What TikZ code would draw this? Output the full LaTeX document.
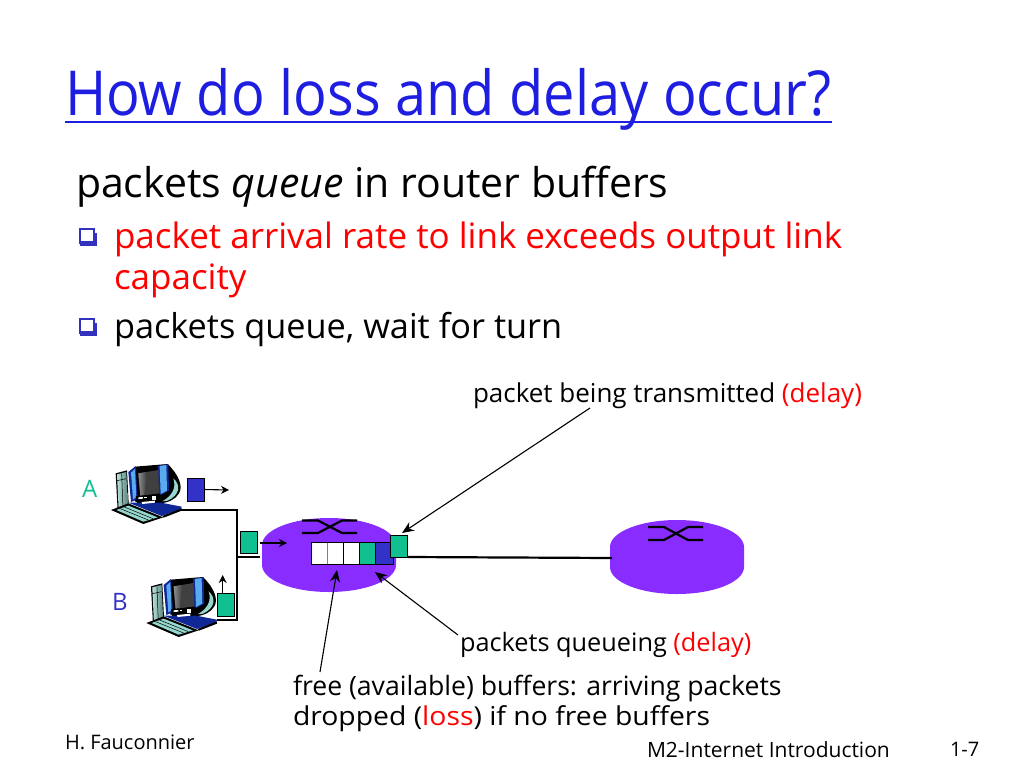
\documentclass[tikz,border=0pt]{standalone}
\usepackage{fontspec}
\setmainfont{Open Sans}
\newfontfamily\headfont[FakeStretch=0.902]{Open Sans}
\newfontfamily\widefont[FakeStretch=1.09]{Open Sans}
\usetikzlibrary{arrows.meta}
\definecolor{titleblue}{RGB}{30,30,225}
\definecolor{routerviolet}{RGB}{136,44,255}
\definecolor{pkteal}{RGB}{16,192,144}
\definecolor{pkblue}{RGB}{50,50,200}
\definecolor{labred}{RGB}{255,0,0}
\definecolor{bulblue}{RGB}{50,50,190}
\definecolor{kbteal}{RGB}{150,215,205}
\definecolor{ringblue}{RGB}{90,170,240}
\definecolor{basenavy}{RGB}{15,40,150}
\tikzset{
  x=1pt,y=-1pt,
  txt/.style={anchor=base west,inner sep=0pt,outer sep=0pt},
  headtxt/.style={txt,font=\headfont\fontsize{62}{62}\selectfont,text=titleblue},
  bigtxt/.style={txt,font=\fontsize{41}{41}\selectfont},
  midtxt/.style={txt,font=\fontsize{35}{35}\selectfont},
  smalltxt/.style={txt,font=\fontsize{26}{26}\selectfont},
  foottxt/.style={txt,font=\fontsize{20}{20}\selectfont},
  pkt/.style={draw=black,line width=0.7pt,minimum width=17pt,minimum height=22pt,inner sep=0pt,outer sep=0pt},
  wire/.style={draw=black,line width=2.2pt},
  flow/.style={draw=black,line width=1.1pt,-{Stealth[length=8pt,width=8pt]}},
  callout/.style={draw=black,line width=1.1pt,-{Stealth[length=12pt,width=10pt]}},
  sw/.style={draw=black,line width=2.2pt},
  cell/.style={fill=white,draw=black,line width=0.7pt}
}
\tikzset{
  computer/.pic={
    \begin{scope}[x=0.3333pt,y=-0.3333pt]
      % tower
      \fill[black] (32,40) -- (66,31) -- (72,150) -- (38,152) -- cycle;
      \shade[left color=kbteal!70!white,right color=kbteal!60!black] (36,43) -- (64,36) -- (69,148) -- (41,149) -- cycle;
      \draw[black,line width=0.5pt] (36,62) -- (64,56) (50,40) -- (54,148);
      % monitor dome
      \fill[black] (90,20) -- (188,12) .. controls (222,45) and (235,80) .. (222,100) .. controls (212,118) and (190,128) .. (165,130) -- (90,125) -- cycle;
      \fill[kbteal] (205,55) .. controls (228,75) and (225,105) .. (188,122) -- (172,124) .. controls (200,108) and (215,85) .. (205,55) -- cycle;
      % left frame
      \fill[basenavy] (70,36) -- (92,18) -- (98,118) -- (78,126) -- cycle;
      \fill[ringblue] (78,38) -- (90,27) -- (94,112) -- (84,118) -- cycle;
      % right frame
      \fill[basenavy] (158,18) -- (190,12) -- (192,92) -- (162,108) -- cycle;
      \fill[ringblue] (164,18) -- (184,15) -- (186,92) -- (167,102) -- cycle;
      % screen
      \fill[black!75] (100,40) -- (160,30) -- (162,100) -- (106,108) -- cycle;
      \shade[left color=black!45,right color=black!75] (100,40) -- (125,36) -- (118,106) -- (106,108) -- cycle;
      % console
      \fill[black] (92,108) -- (166,102) -- (168,128) -- (96,130) -- cycle;
      \fill[white] (100,112) -- (114,111) -- (114,116) -- (100,117) -- cycle;
      \fill[white] (118,110) -- (126,110) -- (126,115) -- (118,115) -- cycle;
      \fill[white] (140,108) rectangle (152,120);
      % base
      \fill[basenavy] (70,128) -- (168,128) -- (230,140) -- (228,148) -- (170,168) -- cycle;
      \fill[white] (110,126) -- (150,122) -- (150,128) -- (112,132) -- cycle;
      % keyboard
      \fill[black] (18,150) -- (70,130) -- (175,172) -- (115,192) -- cycle;
      \fill[kbteal] (34,150) -- (70,137) -- (158,172) -- (115,185) -- cycle;
      \draw[black,line width=0.5pt] (46,146) -- (130,180) (58,141) -- (144,176);
      \fill[black] (172,168) -- (230,145) -- (230,152) -- (176,173) -- cycle;
    \end{scope}
  }
}
\begin{document}
\begin{tikzpicture}
\useasboundingbox (0,0) rectangle (1024,768);
\fill[white] (0,0) rectangle (1024,768);

% title
\node[headtxt] (title) at (65,115) {How do loss and delay occur?};
\draw[titleblue,line width=1.8pt] (65,122) -- (832,122);

% body text
\node[bigtxt] (head) at (76,197) {packets \textit{queue} in router buffers};
\fill[bulblue] (80,232.5) -- (97,232.5) -- (97,245.5) -- (80,245.5) -- cycle;
\fill[bulblue] (80,322.5) -- (97,322.5) -- (97,335.5) -- (80,335.5) -- cycle;
\fill[bulblue] (78.5,228) rectangle (95,244);
\fill[bulblue] (78.5,318) rectangle (95,334);
\fill[white] (80.5,229.5) rectangle (93,241);
\fill[white] (80.5,319.5) rectangle (93,331);
\node[midtxt,text=labred] (l1) at (114,248) {packet arrival rate to link exceeds output link};
\node[midtxt,text=labred] (l2) at (114,289) {capacity};
\node[txt,font=\fontsize{34.3}{34.3}\selectfont] (l3) at (114,338) {packets queue, wait for turn};

% routers
\fill[routerviolet] (262,545) arc[start angle=180,end angle=0,x radius=67,y radius=-27] -- (396,565) arc[start angle=0,end angle=-180,x radius=67,y radius=-27] -- cycle;
\fill[routerviolet] (610,547) arc[start angle=180,end angle=0,x radius=67,y radius=-27] -- (744,567) arc[start angle=0,end angle=-180,x radius=67,y radius=-27] -- cycle;
\coordinate (r1in) at (260,557);
\coordinate (r2in) at (612,558);

% switching symbols
\draw[sw] (302,520.5) -- (318,520.5) -- (342,533) -- (357,533);
\draw[sw] (302,533) -- (318,533) -- (342,520.5) -- (357,520.5);
\draw[sw] (648,527) -- (664,527) -- (688,540) -- (703,540);
\draw[sw] (648,540) -- (664,540) -- (688,527) -- (703,527);

% queue
\path[cell] (311,542) rectangle (327.7,564);
\path[cell,draw=black!50] (327.7,542) rectangle (343,564);
\path[cell] (343,542) rectangle (359,564);
\fill[pkteal] (359,542) rectangle (375.7,564);
\fill[pkblue] (375.7,542) rectangle (393,564);
\draw[black,line width=0.8pt] (311,542) rectangle (393,564);
\draw[black,line width=0.7pt] (359,542) -- (359,564) (375.7,542) -- (375.7,564);

% packets
\node[pkt,fill=pkblue,minimum height=23pt] (pa) at (195.5,489.5) {};
\node[pkt,fill=pkteal,minimum height=23pt] (pb) at (226.2,604.5) {};
\node[pkt,fill=pkteal] (pin) at (248.5,542) {};
\node[pkt,fill=pkteal] (ptx) at (399.2,546) {};

% computers
\pic at (105,460) {computer};
\pic at (140.3,573) {computer};
\coordinate (ca) at (181,510);
\coordinate (cb) at (217,620);
\coordinate (junct) at (237,557);

% wires
\draw[wire] (ca) -- (237,510) -- (237,620) -- (cb);
\draw[wire] (junct) -- (r1in);
\draw[wire] (ptx.south east) -- (r2in);

% small flow arrows
\coordinate (fa) at (229,490);
\coordinate (fb) at (222.7,575);
\coordinate (fi1) at (260,543);
\coordinate (fi2) at (287,543);
\draw[flow] (pa.east) -- (fa);
\draw[flow] (pb.north -| fb) -- (fb);
\draw[flow] (fi1) -- (fi2);

% labels
\node[txt,font=\fontsize{24}{24}\selectfont,text=pkteal] (la) at (82,497) {A};
\node[txt,font=\fontsize{24}{24}\selectfont,text=pkblue] (lb) at (112,610) {B};
\node[smalltxt] (t1) at (473,402) {packet being transmitted \textcolor{labred}{(delay)}};
\node[txt,font=\fontsize{25.3}{25.3}\selectfont] (t2) at (460,651) {packets queueing \textcolor{labred}{(delay)}};
\node[txt,font=\fontsize{26.6}{26.6}\selectfont] (t3) at (293,695) {free (available) buffers: arriving packets};
\node[txt,font=\widefont\fontsize{26}{26}\selectfont] (t4) at (293,725) {dropped (\textcolor{labred}{loss}) if no free buffers};

% callouts
\coordinate (c1s) at (590,408);
\coordinate (c1e) at (402,533);
\coordinate (c2s) at (458,635);
\coordinate (c2e) at (375,572);
\coordinate (c3s) at (320,672);
\coordinate (c3e) at (337,570);
\draw[callout] (c1s) -- (c1e);
\draw[callout] (c2s) -- (c2e);
\draw[callout] (c3s) -- (c3e);

% footer
\node[foottxt] (f1) at (65,749) {H. Fauconnier};
\node[txt,font=\fontsize{21}{21}\selectfont] (f2) at (647,757) {M2-Internet Introduction};
\node[foottxt] (f3) at (950,756) {1-7};
\end{tikzpicture}
\end{document}
